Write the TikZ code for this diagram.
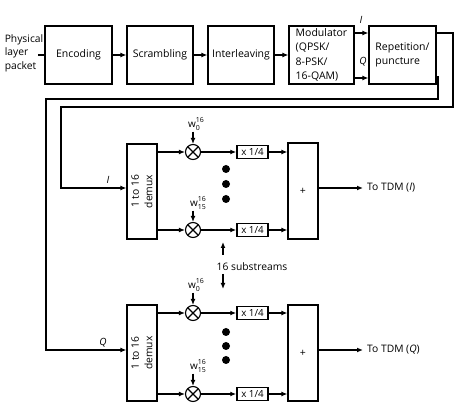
\documentclass[tikz,border=0pt]{standalone}
\usepackage{fontspec}
\setmainfont{Open Sans}
\usetikzlibrary{arrows.meta}
\newcommand{\wsym}[1]{w\raisebox{-2.5pt}{\shortstack[l]{\fontsize{7}{7}\selectfont 16\\[-0.5pt]\fontsize{7}{7}\selectfont #1}}}
\begin{document}
\begin{tikzpicture}[x=1pt,y=-1pt,
  txt/.style={font=\fontsize{10.3}{13.5}\selectfont,inner sep=0pt},
  box/.style={draw,line width=1.2pt,inner sep=0pt,font=\fontsize{10.5}{14.3}\selectfont,align=center},
  qbox/.style={draw,line width=1.5pt,inner sep=0pt,minimum width=31pt,minimum height=13pt,font=\fontsize{9.8}{11}\selectfont},
  conn/.style={line width=1.6pt},
  arr/.style={conn,-{Latex[length=6pt,width=5pt]}},
  mult/.style={draw,circle,line width=1.1pt,minimum size=15pt,inner sep=0pt,
    path picture={\draw[line width=1.1pt] (path picture bounding box.north west)--(path picture bounding box.south east)
      (path picture bounding box.north east)--(path picture bounding box.south west);}},
  dot/.style={circle,fill,minimum size=8pt,inner sep=0pt},
  wlab/.style={font=\fontsize{10}{11}\selectfont,inner sep=1pt},
  iq/.style={inner sep=0pt,font=\fontsize{10}{11}\selectfont\itshape}
]
\useasboundingbox (0,0) rectangle (456,414);
% top row
\node[txt,align=left] (phy) at (24,53) {Physical\\layer\\packet};
\coordinate (phyout) at (38,55);
\node[box,minimum width=67pt,minimum height=58pt] (enc) at (78.5,55) {Encoding};
\node[box,minimum width=66pt,minimum height=58pt] (scr) at (160,55) {Scrambling};
\node[box,minimum width=66pt,minimum height=58pt] (int) at (241,55) {Interleaving};
\node[box,minimum width=65pt,minimum height=58pt,align=left] (mod) at (321.5,55) {Modulator\\(QPSK/\\8-PSK/\\16-QAM)};
\node[box,minimum width=67pt,minimum height=58pt,align=left] (rep) at (402.5,55) {Repetition/\\puncture};
\draw[conn] (phyout) -- (enc.west);
\draw[arr] (enc) -- (scr);
\draw[arr] (scr) -- (int);
\draw[arr] (int) -- (mod);
\draw[arr] ([yshift=22pt]mod.east) -- ([yshift=22pt]rep.west);
\draw[arr] ([yshift=-23pt]mod.east) -- ([yshift=-23pt]rep.west);
\node[iq] (lI) at (361,20) {I};
\node[iq] (lQ) at (363,62) {Q};
% I section
\node[box,minimum width=30pt,minimum height=95pt] (demI) at (142,191.5) {};
\node[txt,rotate=90,align=center] (demIt) at (demI.center) {1 to 16\\demux};
\node[mult] (mI0) at (193,152) {};
\node[mult] (mI15) at (193,230) {};
\node[qbox] (sI0) at (252.5,152) {x 1/4};
\node[qbox] (sI15) at (252.5,230) {x 1/4};
\node[box,minimum width=30pt,minimum height=96pt] (addI) at (303,191) {+};
\node[wlab] (wI0) at (196,124) {\wsym{0}};
\node[wlab] (wI15) at (198,203) {\wsym{15}};
\draw[arr] (wI0.south -| mI0) -- (mI0);
\draw[arr] (wI15.south -| mI15) -- (mI15);
\draw[arr] (demI.east |- mI0) -- (mI0);
\draw[arr] (demI.east |- mI15) -- (mI15);
\draw[arr] (mI0) -- (sI0);
\draw[arr] (mI15) -- (sI15);
\draw[arr] (sI0) -- (addI.west |- sI0);
\draw[arr] (sI15) -- (addI.west |- sI15);
\node[dot] (dI1) at (226,169) {};
\node[dot] (dI2) at (226,184) {};
\node[dot] (dI3) at (226,199) {};
\coordinate (tipI) at (363,188);
\draw[arr] (addI.east |- tipI) -- (tipI);
\node[txt,anchor=west] (tdmI) at (367,188) {To TDM (\textit{I})};
% substreams
\node[txt] (subs) at (252,267) {16 substreams};
\coordinate (suA) at (223,255);
\coordinate (suB) at (223,242);
\coordinate (sdA) at (223,274);
\coordinate (sdB) at (223,289);
\draw[arr] (suA) -- (suB);
\draw[arr] (sdA) -- (sdB);
% Q section
\node[box,minimum width=30pt,minimum height=96pt] (demQ) at (142,353) {};
\node[txt,rotate=90,align=center] (demQt) at (demQ.center) {1 to 16\\demux};
\node[mult] (mQ0) at (193,313) {};
\node[mult] (mQ15) at (193,394) {};
\node[qbox] (sQ0) at (252.5,313) {x 1/4};
\node[qbox] (sQ15) at (252.5,394) {x 1/4};
\node[box,minimum width=30pt,minimum height=96pt] (addQ) at (303,353) {+};
\node[wlab] (wQ0) at (196,285) {\wsym{0}};
\node[wlab] (wQ15) at (198,366) {\wsym{15}};
\draw[arr] (wQ0.south -| mQ0) -- (mQ0);
\draw[arr] (wQ15.south -| mQ15) -- (mQ15);
\draw[arr] (demQ.east |- mQ0) -- (mQ0);
\draw[arr] (demQ.east |- mQ15) -- (mQ15);
\draw[arr] (mQ0) -- (sQ0);
\draw[arr] (mQ15) -- (sQ15);
\draw[arr] (sQ0) -- (addQ.west |- sQ0);
\draw[arr] (sQ15) -- (addQ.west |- sQ15);
\node[dot] (dQ1) at (226,332) {};
\node[dot] (dQ2) at (226,346) {};
\node[dot] (dQ3) at (226,360) {};
\coordinate (tipQ) at (363,350);
\draw[arr] (addQ.east |- tipQ) -- (tipQ);
\node[txt,anchor=west] (tdmQ) at (367,350) {To TDM (\textit{Q})};
% feedback lines
\coordinate (inI) at (61,188);
\coordinate (inQ) at (46,350);
\draw[arr] ([yshift=22pt]rep.east) -| (453,107) -| (inI) -- (demI.west |- inI);
\draw[arr] ([yshift=-22pt]rep.east) -- (438,77) |- (46,99) -- (inQ) -- (demQ.west |- inQ);
\node[iq] (lI2) at (108,180) {I};
\node[iq] (lQ2) at (103,343) {Q};
\end{tikzpicture}
\end{document}
